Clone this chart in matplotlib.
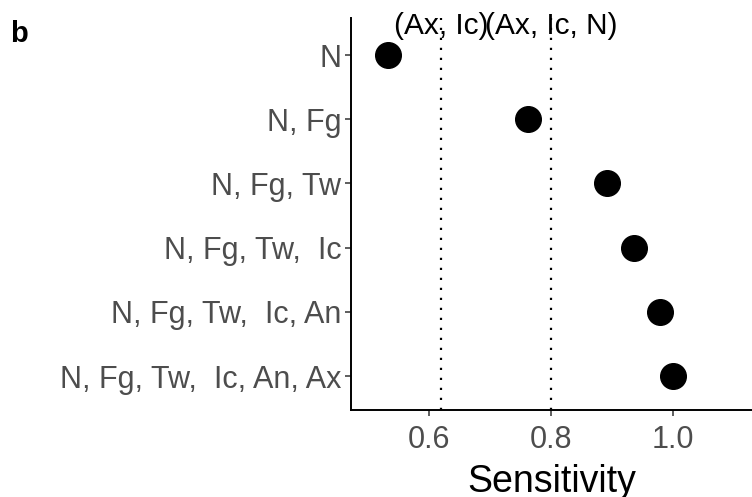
import matplotlib.pyplot as plt

plt.rcParams['font.family'] = ['Liberation Sans', 'DejaVu Sans']

# feature sets, top to bottom
labels = ["N", "N, Fg", "N, Fg, Tw", "N, Fg, Tw,  Ic", "N, Fg, Tw,  Ic, An", "N, Fg, Tw,  Ic, An, Ax"]
sensitivity = [0.533, 0.762, 0.892, 0.936, 0.979, 1.0]

ref_x = [0.62, 0.80]
ref_labels = ["(Ax, Ic)", "(Ax, Ic, N)"]

fig = plt.figure(figsize=(7.52, 4.97), dpi=100)
ax = fig.add_axes([0.4668, 0.175, 0.5332, 0.789])

ypos = list(range(len(labels), 0, -1))
ax.scatter(sensitivity, ypos, s=340, color='black', zorder=3)

for xv, txt in zip(ref_x, ref_labels):
    ax.axvline(xv, color='black', linestyle=(0, (1, 3.5)), linewidth=1.6, zorder=1)
    ax.text(xv, 6.46, txt, ha='center', va='center', fontsize=21.5, color='black')

ax.set_xlim(0.472, 1.13)
ax.set_ylim(0.47, 6.58)
ax.set_xticks([0.6, 0.8, 1.0])
ax.set_xticklabels(["0.6", "0.8", "1.0"])
ax.set_yticks(ypos)
ax.set_yticklabels(labels)

ax.spines['top'].set_visible(False)
ax.spines['right'].set_visible(False)
for sp in ['left', 'bottom']:
    ax.spines[sp].set_linewidth(1.4)
ax.tick_params(axis='both', labelsize=22, labelcolor='#4D4D4D', width=1.1, length=4, color='#333333')
ax.tick_params(axis='x', pad=7)
ax.tick_params(axis='y', pad=3)

ax.set_xlabel("Sensitivity", fontsize=27, color='black', labelpad=6)

fig.text(0.013, 0.915, "b", fontsize=21, fontweight='bold', color='black')

fig.savefig("out.png", dpi=100)
